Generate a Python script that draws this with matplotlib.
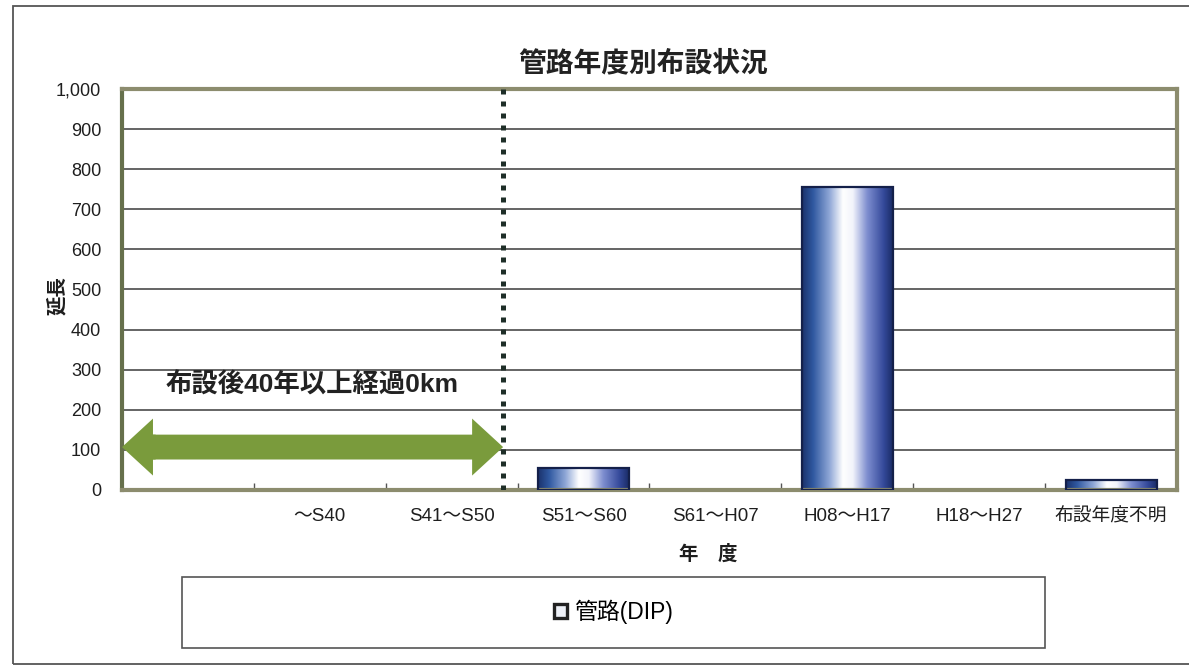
import numpy as np
import matplotlib
matplotlib.use('Agg')
import matplotlib.pyplot as plt
from matplotlib.colors import LinearSegmentedColormap
from matplotlib.patches import Patch, Rectangle
from matplotlib.ticker import FuncFormatter, FixedLocator

plt.rcParams['font.family'] = ['Liberation Sans', 'Noto Sans CJK JP']

# 年度区分ごとの管路延長
categories = ['', '～S40', 'S41～S50', 'S51～S60', 'S61～H07', 'H08～H17', 'H18～H27', '布設年度不明']
lengths = [0, 0, 0, 55, 0, 755, 0, 25]
y_ticks = [0, 100, 200, 300, 400, 500, 600, 700, 800, 900, 1000]

title = '管路年度別布設状況'
series_name = '管路(DIP)'
note = '布設後40年以上経過0km'
boundary_x = 2.39   # 40年経過の境界
arrow_y = 107

fig = plt.figure(figsize=(11.89, 6.69), dpi=100)
ax = fig.add_axes([0.1026, 0.2676, 0.8873, 0.5994])

x = np.arange(len(categories))

# 棒（横方向のグラデーション）
bar_cmap = LinearSegmentedColormap.from_list(
    'pipe', [(0.0, '#1b326c'), (0.12, '#2f58a0'), (0.3, '#8ea6d6'),
             (0.45, '#ffffff'), (0.56, '#f2f4fb'), (0.72, '#7d8dcf'),
             (0.9, '#34499a'), (1.0, '#1a2c66')])
bars = ax.bar(x, lengths, width=0.69, color='#3a5ca0', linewidth=0, zorder=2)
grad = np.linspace(0, 1, 256).reshape(1, -1)
for rect in bars:
    if rect.get_height() <= 0:
        rect.set_visible(False)
        continue
    x0, y0 = rect.get_x(), rect.get_y()
    im = ax.imshow(grad, cmap=bar_cmap, aspect='auto', interpolation='bicubic',
                   extent=(x0, x0 + rect.get_width(), y0, y0 + rect.get_height()),
                   zorder=2.5)
    im.set_clip_path(rect)
edge_colors = ['#14204a' if v > 0 else 'none' for v in lengths]
ax.bar(x, lengths, width=0.69, fill=False, edgecolor=edge_colors, linewidth=1.6, zorder=3)

ax.set_xlim(-0.5, len(categories) - 0.5)
ax.set_ylim(0, 1000)

# 目盛りと補助線
ax.set_xticks(x)
ax.set_xticklabels(categories, fontsize=13.5, color='#1e1e1e')
ax.xaxis.set_minor_locator(FixedLocator(np.arange(0.5, len(categories) - 0.5)))
ax.tick_params(axis='x', which='major', length=0, pad=13)
ax.tick_params(axis='x', which='minor', direction='in', length=5, width=1, color='#555555')
ax.set_yticks(y_ticks)
ax.yaxis.set_major_formatter(FuncFormatter(lambda v, p: f'{int(v):,}'))
ax.tick_params(axis='y', length=0, pad=15, labelsize=13, labelcolor='#1e1e1e')
ax.grid(axis='y', color='#3a3a3a', linewidth=1.1, zorder=1)
ax.set_axisbelow(True)

for side in ['top', 'bottom', 'right']:
    ax.spines[side].set_color('#8c8c6e')
    ax.spines[side].set_linewidth(3)
ax.spines['left'].set_color('#66704c')
ax.spines['left'].set_linewidth(3)

ax.set_ylabel('延長', fontsize=14, fontweight='bold', color='#1e1e1e')
ax.yaxis.set_label_coords(-0.052, 0.484)
ax.set_xlabel('年　度', fontsize=14, fontweight='bold', color='#1e1e1e')
ax.xaxis.set_label_coords(0.556, -0.135)

# 40年経過の境界線と両向き矢印
ax.axvline(boundary_x, color='#1e2e28', linewidth=3.6, linestyle=(0, (1, 1.4)), zorder=4)
head_len = 0.235
overlap = 0.02
arrow_green = '#7a9b3c'
left_base = -0.5 + head_len
ax.arrow(left_base, arrow_y, boundary_x - left_base, 0, width=62, head_width=142,
         head_length=head_len, length_includes_head=True,
         color=arrow_green, linewidth=0, zorder=3)
ax.arrow(left_base + overlap, arrow_y, -(head_len + overlap), 0, width=62, head_width=142,
         head_length=head_len, length_includes_head=True,
         color=arrow_green, linewidth=0, zorder=3)
ax.text(-0.17, 262, note, fontsize=19, fontweight='semibold', color='#222222',
        ha='left', va='center', zorder=5)

fig.text(0.541, 0.904, title, fontsize=20, fontweight='bold', color='#222222',
         ha='center', va='center')

# 凡例の枠
fig.patches.append(Rectangle((0.153, 0.0314), 0.726, 0.106, transform=fig.transFigure,
                             fill=False, edgecolor='#555555', linewidth=1.2))
fig.legend(handles=[Patch(facecolor='#eef1f8', edgecolor='#222222', linewidth=2.4,
                          label=series_name)],
           loc='center', bbox_to_anchor=(0.516, 0.085), frameon=False, fontsize=16.5,
           handlelength=0.55, handleheight=0.55, handletextpad=0.3)

# 外枠
fig.patches.append(Rectangle((0.011, 0.0075), 1.05, 0.984, transform=fig.transFigure,
                             fill=False, edgecolor='#555555', linewidth=1.3))

fig.savefig('out.png', dpi=100)
